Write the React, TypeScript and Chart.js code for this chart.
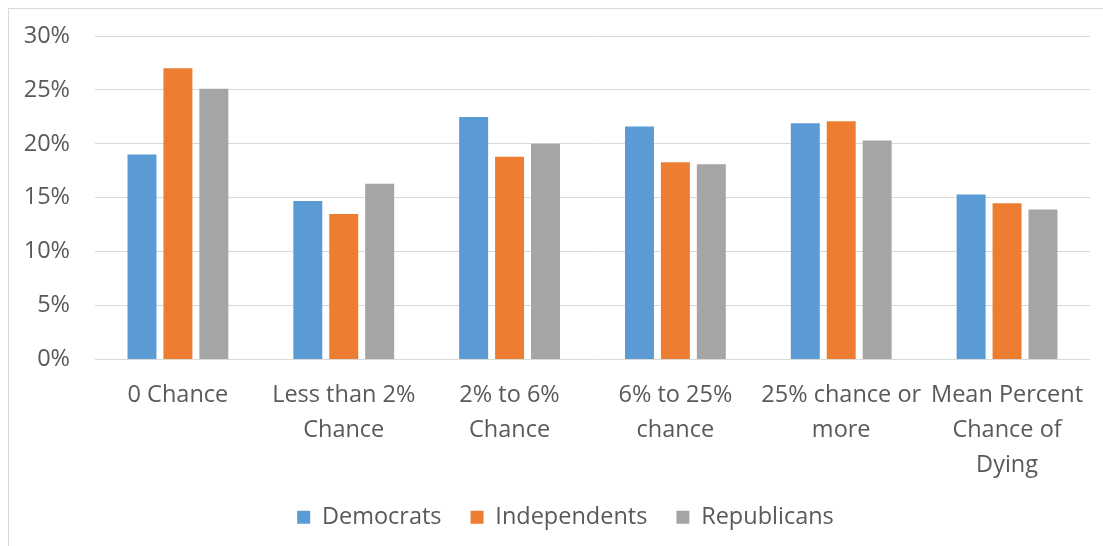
import React, { useEffect, useRef } from "react";
import { Chart, registerables } from "chart.js";

Chart.register(...registerables);

// Share of respondents by perceived chance of dying, split by party
const categories: (string | string[])[] = [
  "0 Chance",
  ["Less than 2%", "Chance"],
  ["2% to 6%", "Chance"],
  ["6% to 25%", "chance"],
  ["25% chance or", "more"],
  ["Mean Percent", "Chance of", "Dying"],
];

const democrats = [19.0, 14.7, 22.5, 21.6, 21.9, 15.3];
const independents = [27.0, 13.5, 18.8, 18.3, 22.1, 14.5];
const republicans = [25.1, 16.3, 20.0, 18.1, 20.3, 13.9];

const yTicks = [0, 5, 10, 15, 20, 25, 30];

const TEXT = "#595959";
const GRID = "#d9d9d9";
const FONT = "'Open Sans', sans-serif";

// Moves the legend row slightly right of centre and up into the footer space
const legendOffset = {
  id: "legendOffset",
  afterLayout(chart: any) {
    const legend = chart.legend;
    if (!legend) return;
    legend.left += 15;
    legend.right += 15;
    legend.top -= 7;
    legend.bottom -= 7;
  },
};

export default function App() {
  const canvasRef = useRef<HTMLCanvasElement | null>(null);

  useEffect(() => {
    if (!canvasRef.current) return;
    const chart = new Chart(canvasRef.current, {
      type: "bar",
      data: {
        labels: categories,
        datasets: [
          { label: "Democrats", data: democrats, backgroundColor: "#5b9bd5" },
          { label: "Independents", data: independents, backgroundColor: "#ed7d31" },
          { label: "Republicans", data: republicans, backgroundColor: "#a5a5a5" },
        ],
      },
      plugins: [legendOffset],
      options: {
        animation: false,
        responsive: true,
        maintainAspectRatio: false,
        layout: { padding: { left: 0, right: 11, top: 27, bottom: 0 } },
        datasets: {
          bar: { categoryPercentage: 0.65, barPercentage: 0.806 },
        },
        scales: {
          x: {
            grid: { display: false, drawTicks: false },
            border: { display: false },
            ticks: {
              color: TEXT,
              padding: 19,
              maxRotation: 0,
              autoSkip: false,
              font: { family: FONT, size: 23.5, lineHeight: 1.47 },
            },
            afterFit: (scale: any) => {
              scale.height = 124;
            },
          },
          y: {
            min: 0,
            max: 30,
            afterBuildTicks: (scale: any) => {
              scale.ticks = yTicks.map((v) => ({ value: v }));
            },
            grid: { color: GRID, lineWidth: 1, drawTicks: false },
            border: { display: false },
            ticks: {
              color: TEXT,
              padding: 25,
              font: { family: FONT, size: 23.5 },
              callback: (v: any) => `${v}%`,
            },
            afterFit: (scale: any) => {
              scale.width = 86;
              scale.paddingTop = 0;
              scale.paddingBottom = 0;
            },
          },
        },
        plugins: {
          legend: {
            position: "bottom",
            labels: {
              color: TEXT,
              boxWidth: 13,
              boxHeight: 13,
              padding: 29,
              font: { family: FONT, size: 23.5 },
            },
          },
          tooltip: { enabled: false },
        },
      },
    });
    return () => chart.destroy();
  }, []);

  return (
    <div
      style={{
        position: "fixed",
        top: 8,
        left: 8,
        right: 0,
        bottom: 0,
        borderTop: `1px solid ${GRID}`,
        borderLeft: `1px solid ${GRID}`,
        background: "#fff",
      }}
    >
      <div style={{ position: "relative", width: "100%", height: "100%" }}>
        <canvas ref={canvasRef} />
      </div>
    </div>
  );
}
